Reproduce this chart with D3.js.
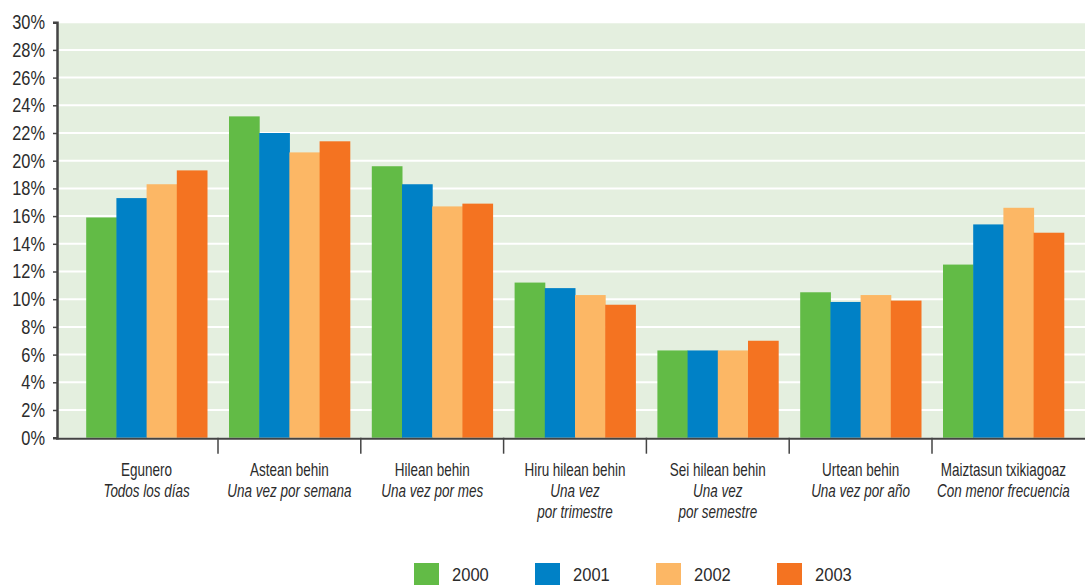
<!DOCTYPE html>
<html>
<head>
<meta charset="utf-8">
<script src="https://cdn.jsdelivr.net/npm/d3@7"></script>
<style>
  html, body { margin: 0; padding: 0; background: #fff; }
  svg { display: block; }
  text { font-family: "Liberation Sans", Arial, sans-serif; fill: #2b2b2b; }
</style>
</head>
<body>
<svg id="chart" width="1085" height="585"></svg>
<script>
const categoriesEu = ["Egunero", "Astean behin", "Hilean behin", "Hiru hilean behin", "Sei hilean behin", "Urtean behin", "Maiztasun txikiagoaz"];
const categoriesEs = [["Todos los días"], ["Una vez por semana"], ["Una vez por mes"], ["Una vez", "por trimestre"], ["Una vez", "por semestre"], ["Una vez por año"], ["Con menor frecuencia"]];
const seriesNames = ["2000", "2001", "2002", "2003"];
const colors = ["#62bb46", "#0081c6", "#fcb765", "#f47321"];
const v2000 = [15.9, 23.2, 19.6, 11.2, 6.3, 10.5, 12.5];
const v2001 = [17.3, 22.0, 18.3, 10.8, 6.3, 9.8, 15.4];
const v2002 = [18.3, 20.6, 16.7, 10.3, 6.3, 10.3, 16.6];
const v2003 = [19.3, 21.4, 16.9, 9.6, 7.0, 9.9, 14.8];
const yTicks = [0, 2, 4, 6, 8, 10, 12, 14, 16, 18, 20, 22, 24, 26, 28, 30];

const series = [v2000, v2001, v2002, v2003];
const svg = d3.select("#chart");

const plotLeft = 57, plotRight = 1085, plotTop = 22.2, plotBottom = 437.7;

const x0 = d3.scaleBand().domain(categoriesEu).range([75.2, 1074.8]).paddingInner(0).paddingOuter(0);
const groupPad = 11;
const x1 = d3.scaleBand().domain(seriesNames).range([groupPad, x0.bandwidth() - groupPad]);
const y = d3.scaleLinear().domain([0, 30]).range([plotBottom, plotTop]);

// background
svg.append("rect")
  .attr("x", plotLeft).attr("y", plotTop)
  .attr("width", plotRight - plotLeft).attr("height", plotBottom - plotTop)
  .attr("fill", "#e4efdf");

// gridlines
svg.append("g").selectAll("line").data(yTicks.filter(d => d > 0)).join("line")
  .attr("x1", plotLeft).attr("x2", plotRight)
  .attr("y1", d => y(d)).attr("y2", d => y(d))
  .attr("stroke", "#fff").attr("stroke-width", 2);

// bars
const groups = svg.append("g").selectAll("g").data(categoriesEu).join("g")
  .attr("transform", d => `translate(${x0(d)},0)`);
groups.selectAll("rect").data((c, i) => seriesNames.map((s, j) => ({ s, j, v: series[j][i] }))).join("rect")
  .attr("x", d => x1(d.s))
  .attr("width", x1.bandwidth() + 0.5)
  .attr("y", d => y(d.v))
  .attr("height", d => y(0) - y(d.v))
  .attr("fill", d => colors[d.j]);

// y axis
const yAxis = d3.axisLeft(y).tickValues(yTicks).tickFormat(d => d + "%").tickSize(4).tickPadding(8);
const gy = svg.append("g").attr("transform", `translate(${plotLeft},0)`).call(yAxis);
gy.select(".domain").attr("stroke", "#444").attr("stroke-width", 2.5);
gy.selectAll(".tick line").attr("stroke", "#444").attr("stroke-width", 1.5);
gy.selectAll(".tick text")
  .attr("font-size", 20).attr("fill", "#2b2b2b")
  .style("font-family", '"Liberation Sans", Arial, sans-serif')
  .attr("transform", function() {
    const xx = +d3.select(this).attr("x");
    d3.select(this).attr("x", 0);
    return `translate(${xx},0) scale(0.82,1)`;
  });

// x axis line
svg.append("line").attr("x1", plotLeft - 1).attr("x2", plotRight)
  .attr("y1", plotBottom + 1).attr("y2", plotBottom + 1)
  .attr("stroke", "#444").attr("stroke-width", 2);
// boundary ticks
svg.append("g").selectAll("line").data(categoriesEu.slice(1)).join("line")
  .attr("x1", d => x0(d)).attr("x2", d => x0(d))
  .attr("y1", plotBottom).attr("y2", plotBottom + 16)
  .attr("stroke", "#444").attr("stroke-width", 1.5);

// category labels (narrowed horizontally)
const lab = svg.append("g").selectAll("text").data(categoriesEu).join("text")
  .attr("transform", d => `translate(${x0(d) + x0.bandwidth() / 2},475.5) scale(0.75,1)`)
  .attr("text-anchor", "middle")
  .attr("font-size", 18);
lab.each(function(d, i) {
  const t = d3.select(this);
  t.append("tspan").attr("x", 0).attr("dy", 0).text(d);
  categoriesEs[i].forEach(line => {
    t.append("tspan").attr("x", 0).attr("dy", 21.3)
      .attr("font-style", "italic").text(line);
  });
});

// legend
const lg = svg.append("g").selectAll("g").data(seriesNames).join("g")
  .attr("transform", (d, i) => `translate(${414 + i * 121},563)`);
lg.append("rect").attr("width", 25).attr("height", 22).attr("fill", (d, i) => colors[i]);
lg.append("text").attr("transform", "translate(38,17.8) scale(0.87,1)").attr("font-size", 19).text(d => d);
</script>
</body>
</html>
